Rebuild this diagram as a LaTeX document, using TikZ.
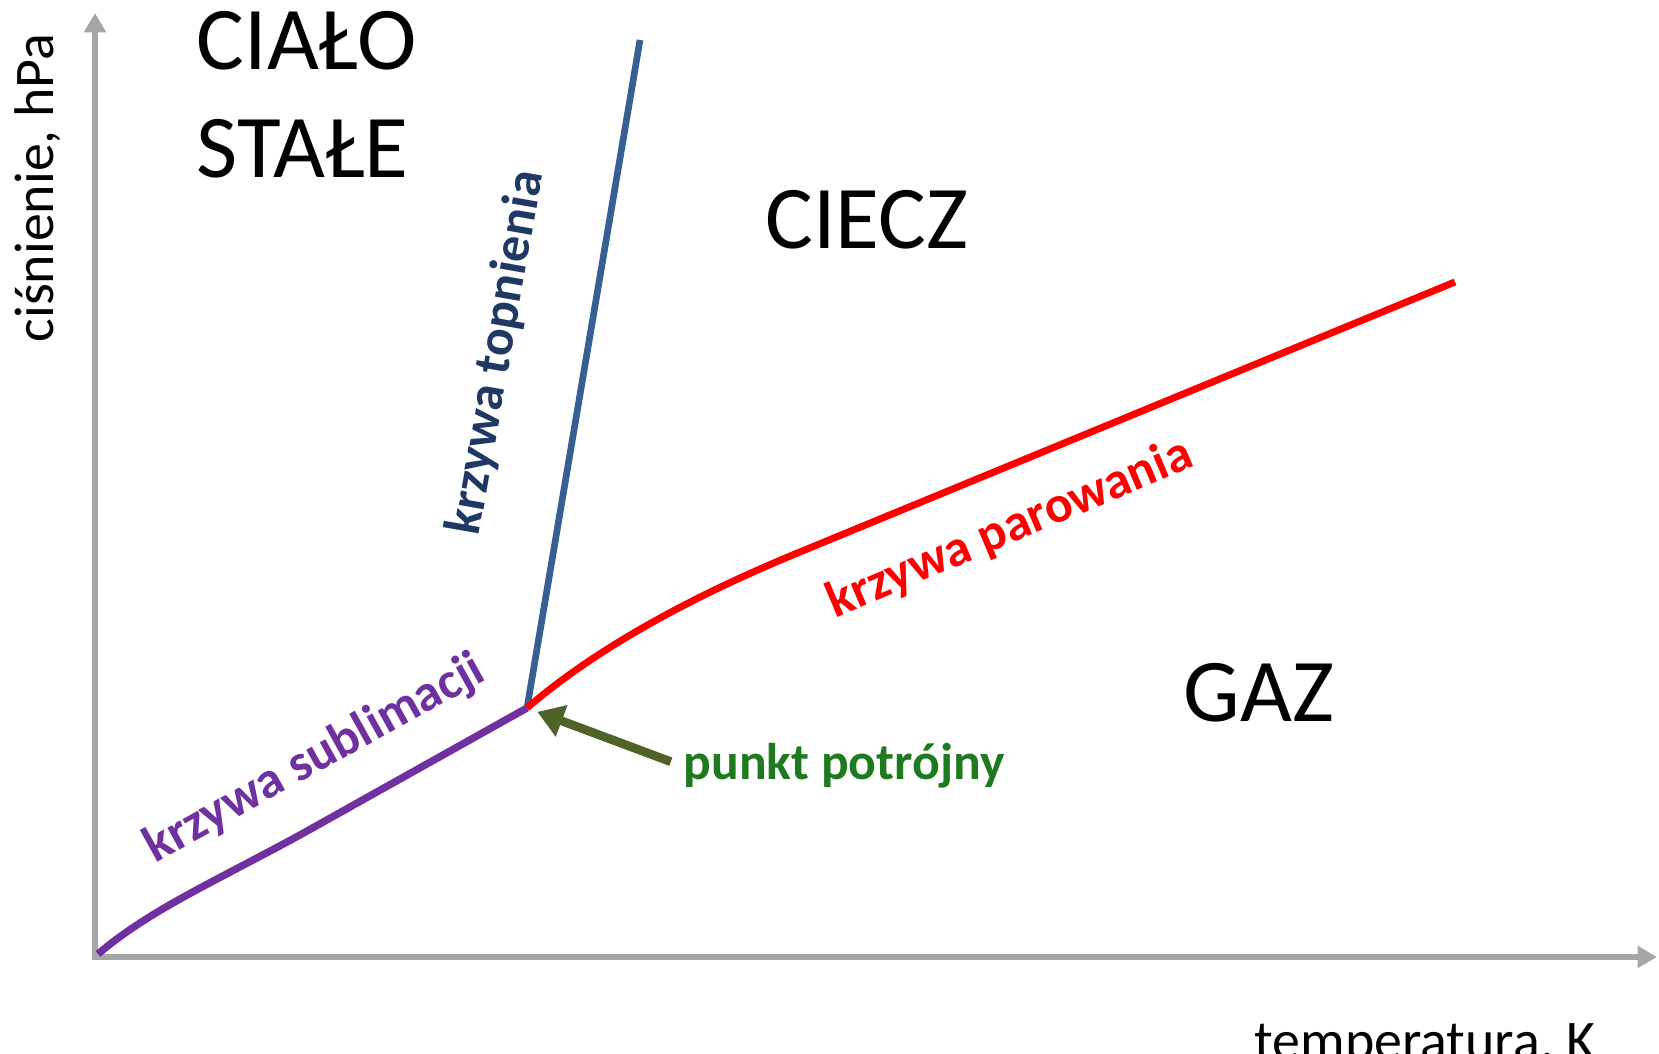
\documentclass[tikz,border=0pt]{standalone}
\usepackage{fontspec}
\setmainfont{Carlito}
\usetikzlibrary{arrows.meta}
\definecolor{osie}{HTML}{A6A6A6}
\definecolor{topn}{HTML}{376092}
\definecolor{topntxt}{HTML}{1F3864}
\definecolor{subl}{HTML}{7030A0}
\definecolor{punkt}{HTML}{1E7A1E}
\definecolor{strz}{HTML}{4F6228}
\begin{document}
\begin{tikzpicture}[line join=miter,
	faza/.style={font=\fontsize{25.5}{30.7}\selectfont,inner sep=0pt},
	opis/.style={font=\bfseries\fontsize{14.7}{17}\selectfont,inner sep=0pt},
	os/.style={font=\fontsize{15.9}{19}\selectfont,inner sep=0pt}]
	\useasboundingbox (-0.95,-0.97) rectangle (15.64,9.57);
	\draw[osie,line width=1.6pt,{Triangle[length=5.5pt,width=6pt]}-{Triangle[length=5.5pt,width=6pt]}] (0,9.44)--(0,0)--(15.62,0);
	\node[os,rotate=90,anchor=base] (cisn) at (-0.42,7.69) {ciśnienie, hPa};
	\node[os,anchor=base] (temp) at (13.30,-1.03) {temperatura, K};
	\coordinate (tp) at (4.32,2.49);
	\draw[subl,line width=2.1pt] (0.03,0.03) .. controls (0.55,0.47) and (1.15,0.73) .. (2.05,1.22) -- (tp);
	\draw[topn,line width=1.9pt] (tp)--(5.45,9.17);
	\draw[red,line width=2pt] (tp) .. controls (5.05,3.12) and (6.05,3.64) .. (7.05,4.05) -- (13.60,6.75);
	\node[faza,anchor=north west,align=left] (stale) at (1.01,9.46) {CIAŁO\\STAŁE};
	\node[faza,anchor=base] (ciecz) at (7.72,7.08) {CIECZ};
	\node[faza,anchor=base] (gaz) at (11.64,2.35) {GAZ};
	\node[opis,text=topntxt,rotate=80] (ltop) at (4.02,6.04) {krzywa topnienia};
	\node[opis,text=subl,rotate=29] (lsub) at (2.20,1.98) {krzywa sublimacji};
	\node[opis,text=red,rotate=23] (lpar) at (9.15,4.28) {krzywa parowania};
	\node[opis,text=punkt,anchor=base west] (pt) at (5.88,1.77) {punkt potrójny};
	\draw[strz,line width=2.5pt,-{Triangle[length=0.26cm,width=0.32cm]},shorten <=0.13cm,shorten >=0.11cm] (pt.west)--(tp);
\end{tikzpicture}
\end{document}
